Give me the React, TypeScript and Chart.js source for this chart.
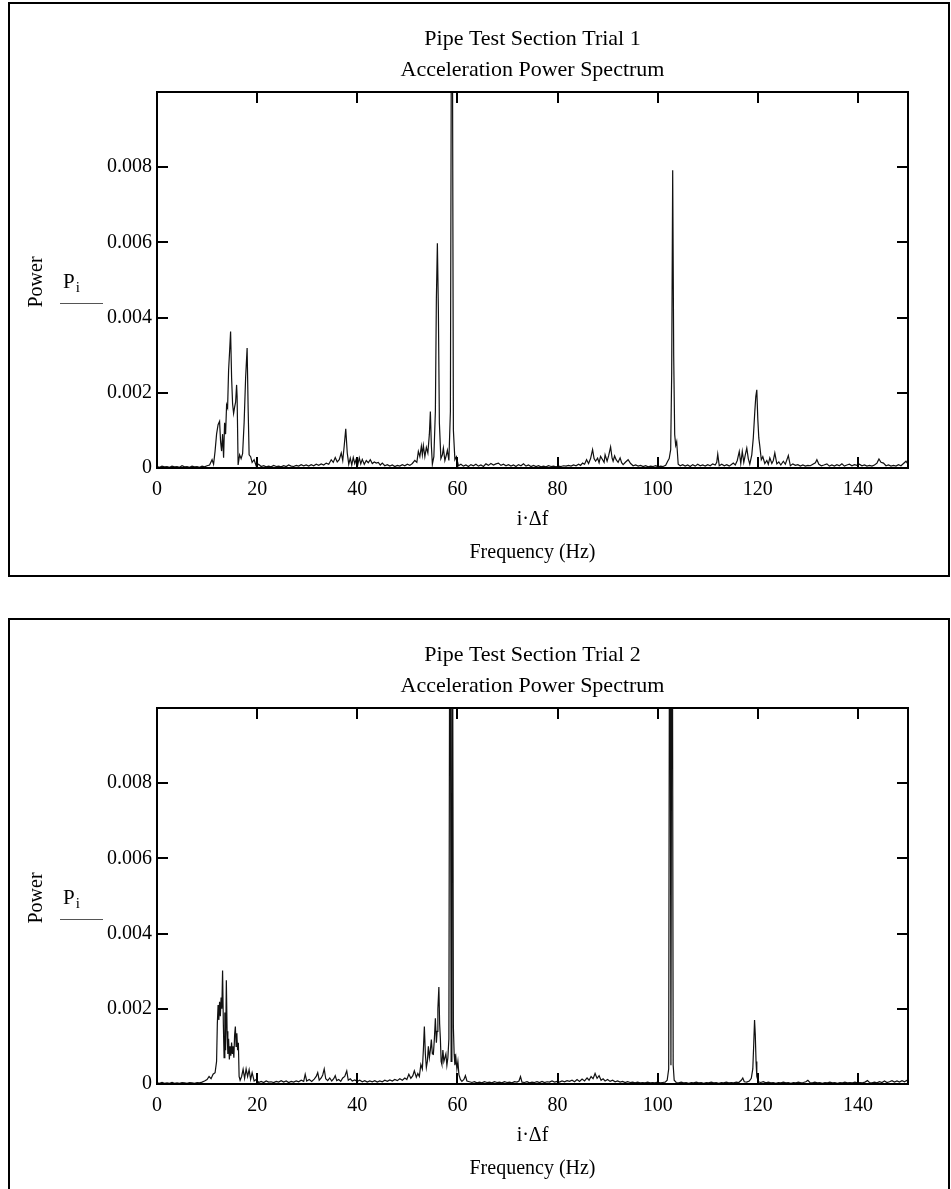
import React, { useEffect, useRef } from "react";
import { Chart, registerables } from "chart.js";

Chart.register(...registerables);

// ---------- text ----------
const TITLES_1 = ["Pipe Test Section Trial 1", "Acceleration Power Spectrum"];
const TITLES_2 = ["Pipe Test Section Trial 2", "Acceleration Power Spectrum"];
const Y_TITLE = "Power";
const Y_VAR = "P";
const Y_SUB = "i";
const X_VAR = "i·Δf";
const X_TITLE = "Frequency (Hz)";

// ---------- axes ----------
const X_TICKS = [0, 20, 40, 60, 80, 100, 120, 140];
const Y_TICKS = [0, 0.002, 0.004, 0.006, 0.008];
const X_MIN = 0;
const X_MAX = 150;
const Y_MIN = 0;
const Y_MAX = 0.01;

// ---------- trial 1 spectrum ----------
const FREQ_1 = [
  0, 0.5, 1, 1.5, 2, 2.5, 3, 3.5, 4, 4.5,
  5, 5.5, 6, 6.5, 7, 7.5, 8, 8.5, 9, 9.5,
  10, 10.5, 11, 11.3, 11.6, 11.9, 12.2, 12.5, 12.7, 12.9,
  13.1, 13.3, 13.5, 13.7, 13.9, 14.1, 14.3, 14.5, 14.7, 14.9,
  15.1, 15.3, 15.5, 15.7, 15.9, 16.0, 16.2, 16.5, 16.8, 17.1,
  17.4, 17.7, 18.0, 18.2, 18.4, 18.7, 19.0, 19.4, 19.8, 20.3,
  20.8, 21.3, 21.8, 22.3, 22.8, 23.3, 23.8, 24.3, 24.8, 25.3,
  25.8, 26.3, 26.8, 27.3, 27.8, 28.3, 28.8, 29.3, 29.8, 30.3,
  30.8, 31.3, 31.8, 32.3, 32.8, 33.3, 33.8, 34.3, 34.8, 35.2,
  35.6, 36.0, 36.4, 36.8, 37.1, 37.4, 37.7, 38.0, 38.3, 38.6,
  38.9, 39.2, 39.5, 39.8, 40.1, 40.4, 40.7, 41.0, 41.4, 41.8,
  42.2, 42.6, 43.0, 43.4, 43.8, 44.2, 44.6, 45.0, 45.5, 46.0,
  46.5, 47.0, 47.5, 48.0, 48.5, 49.0, 49.5, 50.0, 50.5, 51.0,
  51.5, 51.9, 52.2, 52.5, 52.8, 53.0, 53.2, 53.5, 53.8, 54.1,
  54.4, 54.6, 54.8, 55.0, 55.3, 55.6, 55.8, 56.0, 56.2, 56.4,
  56.7, 57.0, 57.2, 57.5, 57.8, 58.0, 58.3, 58.6, 58.8, 59.0,
  59.2, 59.5, 59.8, 60.2, 60.7, 61.2, 61.7, 62.2, 62.7, 63.2,
  63.7, 64.2, 64.7, 65.2, 65.7, 66.2, 66.7, 67.2, 67.7, 68.2,
  68.7, 69.2, 69.7, 70.2, 70.7, 71.2, 71.7, 72.2, 72.7, 73.2,
  73.7, 74.2, 74.7, 75.2, 75.7, 76.2, 76.7, 77.2, 77.7, 78.2,
  78.7, 79.2, 79.7, 80.2, 80.7, 81.2, 81.7, 82.2, 82.7, 83.2,
  83.7, 84.2, 84.6, 85.0, 85.4, 85.8, 86.2, 86.6, 87.0, 87.3,
  87.6, 88.0, 88.3, 88.6, 89.0, 89.3, 89.5, 89.9, 90.2, 90.6,
  90.9, 91.1, 91.4, 91.7, 92.1, 92.5, 92.8, 93.1, 93.6, 94.1,
  94.6, 95.1, 95.6, 96.1, 96.6, 97.1, 97.6, 98.1, 98.6, 99.1,
  99.6, 100.1, 100.6, 101.1, 101.6, 102.0, 102.3, 102.6, 102.8, 103.0,
  103.2, 103.4, 103.6, 103.8, 104.1, 104.5, 105.0, 105.5, 106.0, 106.5,
  107.0, 107.5, 108.0, 108.5, 109.0, 109.5, 110.0, 110.5, 111.0, 111.5,
  111.8, 112.0, 112.3, 112.8, 113.3, 113.8, 114.3, 114.8, 115.1, 115.5,
  115.9, 116.3, 116.6, 116.9, 117.2, 117.5, 117.8, 118.1, 118.4, 118.8,
  119.1, 119.4, 119.6, 119.8, 120.0, 120.2, 120.4, 120.7, 121.0, 121.4,
  121.8, 122.1, 122.4, 122.8, 123.1, 123.4, 123.8, 124.2, 124.6, 125.1,
  125.5, 126.1, 126.5, 127.0, 127.5, 128.0, 128.5, 129.0, 129.5, 130.0,
  130.5, 131.0, 131.5, 131.8, 132.2, 132.7, 133.2, 133.8, 134.3, 134.8,
  135.3, 135.8, 136.3, 136.8, 137.3, 137.8, 138.3, 138.8, 139.3, 139.8,
  140.3, 140.8, 141.3, 141.8, 142.3, 142.8, 143.3, 143.8, 144.2, 144.6,
  145.1, 145.6, 146.1, 146.6, 147.1, 147.6, 148.1, 148.6, 149.1, 149.6, 150,
];
const POWER_1 = [
  4e-5, 2e-5, 5e-5, 3e-5, 4e-5, 2e-5, 5e-5, 3e-5, 4e-5, 2e-5,
  6e-5, 3e-5, 4e-5, 2e-5, 5e-5, 3e-5, 4e-5, 2e-5, 5e-5, 3e-5,
  6e-5, 8e-5, 2.2e-4, 1.0e-4, 4.5e-4, 9e-4, 1.15e-3, 1.24e-3, 7e-4, 4.5e-4,
  9e-4, 2.7e-4, 1.2e-3, 9e-4, 1.68e-3, 1.6e-3, 2.6e-3, 3.1e-3, 3.63e-3, 2.4e-3,
  1.7e-3, 1.45e-3, 1.62e-3, 1.75e-3, 2.21e-3, 1.9e-3, 8e-5, 3.5e-4, 2.5e-4, 3.8e-4,
  1.2e-3, 2.4e-3, 3.19e-3, 1.6e-3, 3.5e-4, 3.0e-4, 1.5e-4, 2.2e-4, 6e-5, 1.0e-4,
  4e-5, 6e-5, 3e-5, 5e-5, 3e-5, 7e-5, 4e-5, 5e-5, 3e-5, 6e-5,
  4e-5, 8e-5, 5e-5, 4e-5, 7e-5, 5e-5, 9e-5, 6e-5, 8e-5, 5e-5,
  9e-5, 6e-5, 1.0e-4, 7e-5, 1.1e-4, 8e-5, 1.3e-4, 1.0e-4, 2.2e-4, 1.5e-4,
  2.8e-4, 1.6e-4, 2.2e-4, 4.0e-4, 2.0e-4, 6e-4, 1.04e-3, 4e-4, 1.0e-4, 2.6e-4,
  8e-5, 2.8e-4, 1.2e-4, 2.4e-4, 9e-5, 2.7e-4, 1.1e-4, 2.3e-4, 1.0e-4, 2.0e-4,
  1.4e-4, 2.2e-4, 1.2e-4, 1.6e-4, 1.3e-4, 1.5e-4, 8e-5, 1.3e-4, 6e-5, 9e-5,
  5e-5, 8e-5, 4e-5, 7e-5, 5e-5, 9e-5, 6e-5, 1.0e-4, 7e-5, 1.2e-4,
  2.0e-4, 1.5e-4, 4.4e-4, 3.0e-4, 5.8e-4, 3.5e-4, 6.0e-4, 3.0e-4, 5.5e-4, 4.0e-4,
  9e-4, 1.5e-3, 6e-4, 1.0e-4, 3e-4, 1.5e-3, 4.5e-3, 5.98e-3, 4.2e-3, 1.2e-3,
  2.5e-4, 3.5e-4, 5.3e-4, 2e-4, 3.5e-4, 4.7e-4, 2.0e-4, 1.5e-3, 1.2e-2, 1.2e-2,
  1.0e-3, 2.2e-4, 3.0e-4, 6e-5, 1.0e-4, 5e-5, 8e-5, 4e-5, 9e-5, 6e-5,
  1.0e-4, 5e-5, 8e-5, 4e-5, 1.1e-4, 7e-5, 1.2e-4, 8e-5, 1.1e-4, 1.3e-4,
  7e-5, 1.0e-4, 6e-5, 9e-5, 5e-5, 8e-5, 4e-5, 9e-5, 6e-5, 1.1e-4,
  5e-5, 8e-5, 4e-5, 7e-5, 4e-5, 6e-5, 3e-5, 5e-5, 3e-5, 6e-5,
  4e-5, 5e-5, 3e-5, 5e-5, 4e-5, 6e-5, 5e-5, 7e-5, 5e-5, 8e-5,
  6e-5, 1.0e-4, 7e-5, 1.3e-4, 1.0e-4, 2.2e-4, 1.2e-4, 2.5e-4, 4.9e-4, 2.5e-4,
  1.8e-4, 2.6e-4, 1.4e-4, 3.1e-4, 2.2e-4, 1.5e-4, 3.5e-4, 1.8e-4, 3.2e-4, 5.6e-4,
  2.6e-4, 1.8e-4, 3.2e-4, 2.2e-4, 1.5e-4, 2.7e-4, 1.4e-4, 9e-5, 1.6e-4, 2.2e-4,
  1.2e-4, 6e-5, 8e-5, 5e-5, 7e-5, 4e-5, 6e-5, 3e-5, 5e-5, 4e-5,
  6e-5, 3e-5, 5e-5, 4e-5, 7e-5, 1.8e-4, 2.5e-4, 4.9e-4, 2.5e-3, 7.92e-3,
  3.0e-3, 8.9e-4, 6e-4, 7.0e-4, 1.0e-4, 6e-5, 9e-5, 5e-5, 8e-5, 4e-5,
  9e-5, 5e-5, 1.0e-4, 6e-5, 8e-5, 5e-5, 9e-5, 6e-5, 1.1e-4, 8e-5,
  1.5e-4, 3.7e-4, 6e-5, 1.0e-4, 6e-5, 9e-5, 5e-5, 1.0e-4, 1.3e-4, 8e-5,
  2.0e-4, 4.4e-4, 1.2e-4, 4.4e-4, 1.5e-4, 3.5e-4, 5.3e-4, 2.5e-4, 1.0e-4, 3.5e-4,
  8e-4, 1.5e-3, 1.9e-3, 2.08e-3, 1.3e-3, 8e-4, 5.8e-4, 2.2e-4, 3.0e-4, 1.2e-4,
  2.0e-4, 1.0e-4, 2.7e-4, 1.2e-4, 2.0e-4, 4.0e-4, 1.1e-4, 1.6e-4, 8e-5, 1.8e-4,
  1.0e-4, 3.3e-4, 6e-5, 1.1e-4, 7e-5, 9e-5, 5e-5, 8e-5, 5e-5, 7e-5,
  6e-5, 1.0e-4, 1.4e-4, 2.2e-4, 1.0e-4, 6e-5, 8e-5, 1.1e-4, 5e-5, 8e-5,
  5e-5, 9e-5, 6e-5, 1.1e-4, 5e-5, 8e-5, 1.0e-4, 6e-5, 9e-5, 7e-5,
  1.0e-4, 6e-5, 8e-5, 5e-5, 7e-5, 5e-5, 8e-5, 1.3e-4, 2.4e-4, 1.5e-4,
  1.3e-4, 6e-5, 8e-5, 5e-5, 7e-5, 5e-5, 9e-5, 6e-5, 1.2e-4, 1.8e-4, 1.0e-4,
];

// ---------- trial 2 spectrum ----------
const FREQ_2 = [
  0, 0.5, 1, 1.5, 2, 2.5, 3, 3.5, 4, 4.5,
  5, 5.5, 6, 6.5, 7, 7.5, 8, 8.5, 9, 9.5,
  10, 10.4, 10.8, 11.2, 11.6, 11.9, 12.05, 12.2, 12.35, 12.5,
  12.65, 12.8, 12.95, 13.1, 13.25, 13.4, 13.55, 13.7, 13.85, 14.0,
  14.15, 14.3, 14.45, 14.6, 14.75, 14.9, 15.05, 15.2, 15.35, 15.5,
  15.65, 15.8, 15.95, 16.1, 16.25, 16.4, 16.6, 16.9, 17.2, 17.5,
  17.8, 18.1, 18.4, 18.7, 19.0, 19.4, 19.8, 20.3, 20.8, 21.3,
  21.8, 22.3, 22.8, 23.3, 23.8, 24.3, 24.8, 25.3, 25.8, 26.3,
  26.8, 27.3, 27.8, 28.3, 28.8, 29.3, 29.6, 29.9, 30.4, 30.9,
  31.4, 31.8, 32.1, 32.4, 32.8, 33.1, 33.4, 33.7, 34.1, 34.5,
  34.9, 35.3, 35.6, 35.9, 36.3, 36.7, 37.1, 37.5, 37.9, 38.2,
  38.6, 39.0, 39.5, 40.0, 40.5, 41.0, 41.5, 42.0, 42.5, 43.0,
  43.5, 44.0, 44.5, 45.0, 45.5, 46.0, 46.5, 47.0, 47.5, 48.0,
  48.5, 49.0, 49.5, 49.9, 50.3, 50.7, 51.1, 51.4, 51.8, 52.1,
  52.4, 52.7, 53.0, 53.2, 53.4, 53.6, 53.8, 54.0, 54.2, 54.4,
  54.6, 54.8, 55.0, 55.2, 55.4, 55.6, 55.8, 55.95, 56.1, 56.3,
  56.45, 56.6, 56.75, 56.9, 57.1, 57.3, 57.5, 57.7, 57.9, 58.1,
  58.3, 58.45, 58.6, 58.75, 58.9, 59.05, 59.2, 59.35, 59.5, 59.7,
  59.9, 60.1, 60.3, 60.6, 60.9, 61.3, 61.6, 61.9, 62.4, 62.9,
  63.4, 63.9, 64.4, 64.9, 65.4, 65.9, 66.4, 66.9, 67.4, 67.9,
  68.4, 68.9, 69.4, 69.9, 70.4, 70.9, 71.4, 71.9, 72.3, 72.6,
  72.9, 73.4, 73.9, 74.4, 74.9, 75.4, 75.9, 76.4, 76.9, 77.4,
  77.9, 78.4, 78.9, 79.4, 79.9, 80.4, 80.9, 81.4, 81.9, 82.4,
  82.9, 83.4, 83.9, 84.4, 84.9, 85.4, 85.9, 86.3, 86.7, 87.1,
  87.5, 87.9, 88.3, 88.7, 89.1, 89.5, 90.0, 90.5, 91.0, 91.5,
  92.0, 92.5, 93.0, 93.5, 94.0, 94.5, 95.0, 95.5, 96.0, 96.5,
  97.0, 97.5, 98.0, 98.5, 99.0, 99.5, 100.0, 100.5, 101.0, 101.5,
  101.9, 102.2, 102.35, 102.5, 102.65, 102.8, 102.95, 103.1, 103.3, 103.7,
  104.2, 104.7, 105.2, 105.7, 106.2, 106.7, 107.2, 107.7, 108.2, 108.7,
  109.2, 109.7, 110.2, 110.7, 111.2, 111.7, 112.2, 112.7, 113.2, 113.7,
  114.2, 114.7, 115.2, 115.7, 116.2, 116.7, 117.0, 117.3, 117.8, 118.3,
  118.7, 119.0, 119.2, 119.35, 119.5, 119.65, 119.8, 120.1, 120.6, 121.1,
  121.6, 122.1, 122.6, 123.1, 123.6, 124.1, 124.6, 125.1, 125.6, 126.1,
  126.6, 127.1, 127.6, 128.1, 128.6, 129.1, 129.6, 130.0, 130.4, 130.9,
  131.4, 131.9, 132.4, 132.9, 133.4, 133.9, 134.4, 134.9, 135.4, 135.9,
  136.4, 136.9, 137.4, 137.9, 138.4, 138.9, 139.4, 139.9, 140.4, 140.9,
  141.4, 141.9, 142.3, 142.8, 143.3, 143.8, 144.3, 144.8, 145.3, 145.8,
  146.3, 146.8, 147.3, 147.8, 148.3, 148.8, 149.3, 149.8, 150,
];
const POWER_2 = [
  3e-5, 2e-5, 4e-5, 2e-5, 3e-5, 2e-5, 4e-5, 2e-5, 3e-5, 2e-5,
  4e-5, 3e-5, 2e-5, 4e-5, 3e-5, 2e-5, 4e-5, 3e-5, 5e-5, 8e-5,
  1.2e-4, 2.0e-4, 1.4e-4, 2.6e-4, 3.0e-4, 6e-4, 1.6e-3, 2.1e-3, 1.7e-3, 2.19e-3,
  1.8e-3, 2.3e-3, 2.0e-3, 3.02e-3, 1.6e-3, 7e-4, 1.9e-3, 9e-4, 2.76e-3, 1.4e-3,
  8e-4, 1.2e-3, 6.5e-4, 1.0e-3, 7.5e-4, 1.1e-3, 8e-4, 1.0e-3, 7e-4, 1.3e-3,
  1.53e-3, 1.0e-3, 1.35e-3, 9e-4, 1.1e-3, 2e-4, 1e-4, 2e-4, 3.9e-4, 1.5e-4,
  4.0e-4, 2.0e-4, 3.8e-4, 1.2e-4, 3.0e-4, 8e-5, 1.2e-4, 4e-5, 7e-5, 4e-5,
  8e-5, 5e-5, 6e-5, 4e-5, 7e-5, 5e-5, 9e-5, 5e-5, 8e-5, 4e-5,
  7e-5, 5e-5, 8e-5, 6e-5, 1.0e-4, 7e-5, 2.6e-4, 8e-5, 1.2e-4, 7e-5,
  1.3e-4, 2.0e-4, 3.0e-4, 1.0e-4, 1.6e-4, 2.4e-4, 4.0e-4, 1.4e-4, 9e-5, 1.6e-4,
  8e-5, 1.4e-4, 2.2e-4, 9e-5, 1.2e-4, 7e-5, 1.6e-4, 2.0e-4, 3.5e-4, 1.0e-4,
  1.4e-4, 8e-5, 1.1e-4, 7e-5, 1.0e-4, 6e-5, 9e-5, 5e-5, 8e-5, 6e-5,
  9e-5, 5e-5, 8e-5, 6e-5, 1.0e-4, 7e-5, 1.1e-4, 8e-5, 1.2e-4, 9e-5,
  1.4e-4, 1.0e-4, 1.6e-4, 1.2e-4, 2.6e-4, 1.5e-4, 2.2e-4, 3.5e-4, 1.8e-4, 2.8e-4,
  2.0e-4, 5.2e-4, 4.0e-4, 9e-4, 1.53e-3, 8e-4, 4.4e-4, 6e-4, 1.0e-3, 7e-4,
  9e-4, 1.18e-3, 8e-4, 7.9e-4, 1.2e-3, 1.75e-3, 1.1e-3, 1.4e-3, 2.0e-3, 2.58e-3,
  1.6e-3, 1.2e-3, 6e-4, 5.2e-4, 9e-4, 6e-4, 7e-4, 8e-4, 5e-4, 7e-4,
  1.2e-3, 1.2e-2, 1.2e-2, 6e-4, 1.2e-2, 1.2e-2, 1.5e-3, 8e-4, 5e-4, 7e-4,
  4e-4, 6e-4, 2.5e-4, 1.2e-4, 7e-5, 1.2e-4, 2.2e-4, 8e-5, 6e-5, 4e-5,
  6e-5, 3e-5, 5e-5, 3e-5, 6e-5, 4e-5, 5e-5, 3e-5, 6e-5, 4e-5,
  5e-5, 3e-5, 6e-5, 4e-5, 5e-5, 3e-5, 6e-5, 5e-5, 8e-5, 2.0e-4,
  5e-5, 4e-5, 6e-5, 3e-5, 5e-5, 4e-5, 6e-5, 4e-5, 7e-5, 4e-5,
  6e-5, 5e-5, 8e-5, 5e-5, 7e-5, 5e-5, 8e-5, 6e-5, 9e-5, 7e-5,
  1.0e-4, 6e-5, 1.2e-4, 7e-5, 1.3e-4, 8e-5, 1.6e-4, 1.0e-4, 2.0e-4, 1.4e-4,
  2.8e-4, 1.5e-4, 2.2e-4, 1.0e-4, 1.4e-4, 8e-5, 1.2e-4, 7e-5, 1.0e-4, 6e-5,
  8e-5, 5e-5, 7e-5, 4e-5, 6e-5, 4e-5, 5e-5, 3e-5, 5e-5, 3e-5,
  4e-5, 3e-5, 5e-5, 3e-5, 4e-5, 3e-5, 5e-5, 3e-5, 4e-5, 5e-5,
  1.0e-4, 4.0e-4, 1.2e-2, 1.2e-2, 5e-4, 1.2e-2, 1.2e-2, 5e-4, 1.0e-4, 4e-5,
  3e-5, 5e-5, 3e-5, 4e-5, 2e-5, 4e-5, 3e-5, 5e-5, 3e-5, 4e-5,
  2e-5, 4e-5, 3e-5, 5e-5, 3e-5, 4e-5, 2e-5, 4e-5, 3e-5, 5e-5,
  3e-5, 4e-5, 3e-5, 5e-5, 4e-5, 1.0e-4, 1.6e-4, 6e-5, 5e-5, 8e-5,
  1.5e-4, 4e-4, 1.1e-3, 1.7e-3, 1.3e-3, 6e-4, 2.0e-4, 6e-5, 4e-5, 6e-5,
  3e-5, 5e-5, 3e-5, 4e-5, 2e-5, 4e-5, 3e-5, 5e-5, 3e-5, 4e-5,
  2e-5, 4e-5, 3e-5, 5e-5, 3e-5, 4e-5, 6e-5, 1.0e-4, 4e-5, 3e-5,
  5e-5, 3e-5, 4e-5, 2e-5, 4e-5, 3e-5, 5e-5, 3e-5, 4e-5, 2e-5,
  4e-5, 3e-5, 5e-5, 3e-5, 4e-5, 3e-5, 5e-5, 3e-5, 4e-5, 3e-5,
  5e-5, 9e-5, 4e-5, 3e-5, 5e-5, 3e-5, 6e-5, 4e-5, 8e-5, 4e-5,
  6e-5, 9e-5, 5e-5, 8e-5, 5e-5, 9e-5, 6e-5, 1.0e-4, 5e-5,
];

// ---------- styling ----------
const FONT = "'Liberation Serif', 'Times New Roman', serif";
const TICK_LEN = 11;
const CANVAS_W = 951;
const CANVAS_H = 573;

const framePlugin = {
  id: "mathcadFrame",
  afterDatasetsDraw(chart: any, _args: any, opts: any) {
    const { ctx, chartArea: a, scales } = chart;
    const xs = scales.x;
    const ys = scales.y;
    ctx.save();
    ctx.strokeStyle = "#000";
    ctx.lineWidth = 2;
    ctx.strokeRect(a.left, a.top, a.right - a.left, a.bottom - a.top);
    ctx.beginPath();
    for (const v of X_TICKS) {
      if (v === X_MIN) continue;
      const px = Math.round(xs.getPixelForValue(v));
      ctx.moveTo(px, a.top);
      ctx.lineTo(px, a.top + TICK_LEN);
      ctx.moveTo(px, a.bottom);
      ctx.lineTo(px, a.bottom - TICK_LEN);
    }
    for (const v of Y_TICKS) {
      if (v === Y_MIN) continue;
      const py = Math.round(ys.getPixelForValue(v));
      ctx.moveTo(a.left, py);
      ctx.lineTo(a.left + TICK_LEN, py);
      ctx.moveTo(a.right, py);
      ctx.lineTo(a.right - TICK_LEN, py);
    }
    ctx.stroke();

    ctx.fillStyle = "#000";
    ctx.textAlign = "center";
    ctx.textBaseline = "middle";
    const cx = (a.left + a.right) / 2;
    ctx.font = `22px ${FONT}`;
    ctx.fillText(opts.titles[0], cx, a.top - 53);
    ctx.fillText(opts.titles[1], cx, a.top - 22);

    ctx.font = `20px ${FONT}`;
    ctx.fillText(X_VAR, cx, a.bottom + 52);
    ctx.fillText(X_TITLE, cx, a.bottom + 85);

    // rotated y title
    ctx.save();
    ctx.translate(a.left - 120, a.top + 190);
    ctx.rotate(-Math.PI / 2);
    ctx.fillText(Y_TITLE, 0, 0);
    ctx.restore();

    // P_i placeholder label
    ctx.textAlign = "left";
    ctx.textBaseline = "alphabetic";
    ctx.font = `21px ${FONT}`;
    const px0 = a.left - 94;
    const pb = a.top + 196;
    ctx.fillText(Y_VAR, px0, pb);
    const pw = ctx.measureText(Y_VAR).width;
    ctx.font = `15px ${FONT}`;
    ctx.fillText(Y_SUB, px0 + pw + 1, pb + 4);
    ctx.strokeStyle = "#555";
    ctx.lineWidth = 1;
    ctx.beginPath();
    ctx.moveTo(a.left - 97, a.top + 211.5);
    ctx.lineTo(a.left - 54, a.top + 211.5);
    ctx.stroke();
    ctx.restore();
  },
};

type SpectrumProps = { top: number; titles: string[]; freq: number[]; power: number[] };

function Spectrum({ top, titles, freq, power }: SpectrumProps) {
  const ref = useRef<HTMLCanvasElement | null>(null);
  useEffect(() => {
    if (!ref.current) return;
    const points = freq.map((f, i) => ({ x: f, y: power[i] }));
    const chart = new Chart(ref.current, {
      type: "line",
      data: {
        datasets: [
          {
            data: points,
            borderColor: "#111",
            borderWidth: 1.2,
            pointRadius: 0,
            tension: 0,
            fill: false,
          },
        ],
      },
      options: {
        animation: false,
        responsive: false,
        parsing: false as any,
        events: [],
        layout: { padding: { left: 0, right: 43, top: 92, bottom: 65 } },
        plugins: {
          legend: { display: false },
          tooltip: { enabled: false },
          title: { display: false },
          mathcadFrame: { titles },
        } as any,
        scales: {
          x: {
            type: "linear",
            min: X_MIN,
            max: X_MAX,
            grid: { display: false, drawTicks: false },
            border: { display: false },
            afterBuildTicks: (s: any) => {
              s.ticks = X_TICKS.map((v) => ({ value: v }));
            },
            afterFit: (s: any) => {
              s.height = 40;
            },
            ticks: {
              autoSkip: false,
              maxRotation: 0,
              padding: 10,
              color: "#000",
              font: { family: FONT, size: 20 },
              callback: (v: any) => String(v),
            },
          },
          y: {
            type: "linear",
            min: Y_MIN,
            max: Y_MAX,
            grid: { display: false, drawTicks: false },
            border: { display: false },
            afterBuildTicks: (s: any) => {
              s.ticks = Y_TICKS.map((v) => ({ value: v }));
            },
            afterFit: (s: any) => {
              s.width = 157;
            },
            ticks: {
              padding: 5,
              color: "#000",
              font: { family: FONT, size: 20 },
              callback: (v: any) => (Number(v) === 0 ? "0" : Number(v).toFixed(3)),
            },
          },
        },
      },
      plugins: [framePlugin],
    });
    return () => chart.destroy();
  }, [freq, power, titles]);
  return (
    <canvas
      ref={ref}
      width={CANVAS_W}
      height={CANVAS_H}
      style={{ position: "absolute", left: 0, top, width: CANVAS_W, height: CANVAS_H, display: "block" }}
    />
  );
}

export default function App() {
  return (
    <div
      style={{
        position: "fixed",
        left: 0,
        top: 0,
        width: 951,
        height: 1189,
        overflow: "hidden",
        background: "#fff",
      }}
    >
      <div
        style={{
          position: "absolute",
          left: 8,
          top: 2,
          width: 938,
          height: 571,
          border: "2px solid #000",
        }}
      />
      <div
        style={{
          position: "absolute",
          left: 8,
          top: 618,
          width: 938,
          height: 600,
          border: "2px solid #000",
        }}
      />
      <Spectrum top={0} titles={TITLES_1} freq={FREQ_1} power={POWER_1} />
      <Spectrum top={616} titles={TITLES_2} freq={FREQ_2} power={POWER_2} />
    </div>
  );
}
